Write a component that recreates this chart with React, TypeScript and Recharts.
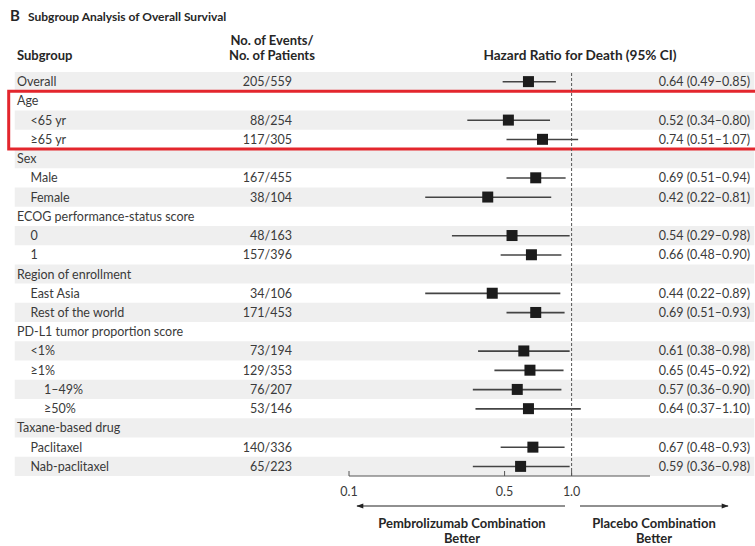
import React from 'react';
import { ComposedChart, Bar, Line, XAxis, YAxis, ReferenceLine, ReferenceArea } from 'recharts';

const subgroups = [
  'Overall', 'Age', '<65 yr', '≥65 yr', 'Sex', 'Male', 'Female',
  'ECOG performance-status score', '0', '1', 'Region of enrollment', 'East Asia',
  'Rest of the world', 'PD-L1 tumor proportion score', '<1%', '≥1%', '1–49%', '≥50%',
  'Taxane-based drug', 'Paclitaxel', 'Nab-paclitaxel',
];
const indentLevels = [0, 0, 1, 1, 0, 1, 1, 0, 1, 1, 0, 1, 1, 0, 1, 1, 2, 2, 0, 1, 1];
const eventCounts = [
  '205/559', '', '88/254', '117/305', '', '167/455', '38/104', '', '48/163', '157/396', '',
  '34/106', '171/453', '', '73/194', '129/353', '76/207', '53/146', '', '140/336', '65/223',
];
const hazardRatios = [0.64, null, 0.52, 0.74, null, 0.69, 0.42, null, 0.54, 0.66, null, 0.44, 0.69, null, 0.61, 0.65, 0.57, 0.64, null, 0.67, 0.59];
const ciLower = [0.49, null, 0.34, 0.51, null, 0.51, 0.22, null, 0.29, 0.48, null, 0.22, 0.51, null, 0.38, 0.45, 0.36, 0.37, null, 0.48, 0.36];
const ciUpper = [0.85, null, 0.80, 1.07, null, 0.94, 0.81, null, 0.98, 0.90, null, 0.89, 0.93, null, 0.98, 0.92, 0.90, 1.10, null, 0.93, 0.98];
const xTicks = [0.1, 0.5, 1.0];
const xTickLabels = ['0.1', '0.5', '1.0'];
const highlightedGroup = ['Age', '≥65 yr'];

const fmt = (v: number) => v.toFixed(2);

const rows = subgroups.map((label, i) => {
  const hr = hazardRatios[i];
  const lo = ciLower[i];
  const hi = ciUpper[i];
  return {
    label,
    level: indentLevels[i],
    events: eventCounts[i],
    hr,
    ci: hr != null ? [lo, hi] : null,
    hrText: hr != null ? `${fmt(hr)} (${fmt(lo as number)}–${fmt(hi as number)})` : '',
  };
});

const FONT = 'Lato, "Open Sans", sans-serif';
const TEXT = '#3a3a3a';
const DARK = '#262626';
const SHADE = '#efefef';

const RowTick = (props: any) => {
  const { y, payload } = props;
  const row = rows.find((r) => r.label === payload.value);
  if (!row) return <g />;
  return (
    <g fontFamily={FONT} fontSize={12.5} fill={TEXT}>
      <text x={17 + row.level * 13.5} y={y + 4.5} textAnchor="start">{row.label}</text>
      <text x={292} y={y + 4.5} textAnchor="end">{row.events}</text>
      <text x={750} y={y + 4.5} textAnchor="end">{row.hrText}</text>
    </g>
  );
};

const AxisTick = (props: any) => {
  const { x, y, payload } = props;
  const idx = xTicks.indexOf(payload.value);
  return (
    <g>
      <line x1={x} x2={x} y1={y} y2={y - 5} stroke="#555" strokeWidth={1} />
      <text x={x} y={y + 20} textAnchor="middle" fontFamily={FONT} fontSize={12.5} fill={TEXT}>
        {idx >= 0 ? xTickLabels[idx] : String(payload.value)}
      </text>
    </g>
  );
};

const SquareDot = (props: any) => {
  const { cx, cy, payload } = props;
  if (payload == null || payload.hr == null || cx == null || cy == null) return <g key={props.index} />;
  return <rect key={props.index} x={cx - 5.5} y={cy - 5.5} width={11} height={11} fill="#1c1c1c" />;
};

export default function App() {
  return (
    <div style={{ position: 'absolute', left: 0, top: 0, width: 755, height: 546, background: '#fff' }}>
      <ComposedChart
        width={755}
        height={546}
        data={rows}
        layout="vertical"
        margin={{ top: 72, right: 105, bottom: 0, left: 0 }}
      >
        {rows.map((r, i) =>
          i % 2 === 0 ? (
            <ReferenceArea
              key={'shade' + i}
              y1={r.label}
              y2={r.label}
              x1={0.00315}
              x2={6.62}
              fill={SHADE}
              fillOpacity={1}
              stroke="none"
              ifOverflow="visible"
            />
          ) : null
        )}
        <XAxis
          type="number"
          dataKey="hr"
          scale="log"
          domain={[0.1, 2.25]}
          allowDataOverflow
          ticks={xTicks}
          tickSize={0}
          tickMargin={0}
          tickLine={false}
          axisLine={{ stroke: '#555', strokeWidth: 1 }}
          tick={<AxisTick />}
          height={70}
          interval={0}
        />
        <YAxis
          type="category"
          dataKey="label"
          width={349}
          axisLine={false}
          tickLine={false}
          tick={<RowTick />}
          interval={0}
        />
        <ReferenceLine x={1} stroke="#555" strokeDasharray="3 2" strokeWidth={1} ifOverflow="visible" />
        <Bar dataKey="ci" barSize={1.6} fill="#444" isAnimationActive={false} />
        <Line
          dataKey="hr"
          stroke="none"
          dot={<SquareDot />}
          activeDot={false}
          isAnimationActive={false}
          connectNulls={false}
        />
        <ReferenceArea
          y1={highlightedGroup[0]}
          y2={highlightedGroup[1]}
          x1={0.00296}
          x2={10}
          fill="none"
          stroke="#e3262d"
          strokeWidth={3}
          ifOverflow="visible"
        />
      </ComposedChart>
      <svg
        width={755}
        height={546}
        style={{ position: 'absolute', left: 0, top: 0, pointerEvents: 'none' }}
      >
        <defs>
          <marker id="arrowHead" viewBox="0 0 10 10" refX="9" refY="5" markerWidth="9" markerHeight="7" orient="auto-start-reverse" markerUnits="userSpaceOnUse">
            <path d="M0,1.5 L10,5 L0,8.5 Z" fill="#222" />
          </marker>
        </defs>
        <g fontFamily={FONT} fill={DARK} fontWeight={700}>
          <text x={10} y={21} fontSize={15}>B</text>
          <text x={28} y={21} fontSize={12}>Subgroup Analysis of Overall Survival</text>
          <text x={17} y={60} fontSize={13}>Subgroup</text>
          <text x={272} y={45} fontSize={13} textAnchor="middle">No. of Events/</text>
          <text x={272} y={60} fontSize={13} textAnchor="middle">No. of Patients</text>
          <text x={580} y={60} fontSize={13.6} textAnchor="middle">Hazard Ratio for Death (95% CI)</text>
          <text x={462} y={528} fontSize={13} textAnchor="middle">Pembrolizumab Combination</text>
          <text x={462} y={543} fontSize={13} textAnchor="middle">Better</text>
          <text x={654} y={528} fontSize={13} textAnchor="middle">Placebo Combination</text>
          <text x={654} y={543} fontSize={13} textAnchor="middle">Better</text>
        </g>
        <line x1={565} y1={506} x2={357} y2={506} stroke="#222" strokeWidth={1.2} markerEnd="url(#arrowHead)" />
        <line x1={580} y1={506} x2={728} y2={506} stroke="#222" strokeWidth={1.2} markerEnd="url(#arrowHead)" />
      </svg>
    </div>
  );
}
